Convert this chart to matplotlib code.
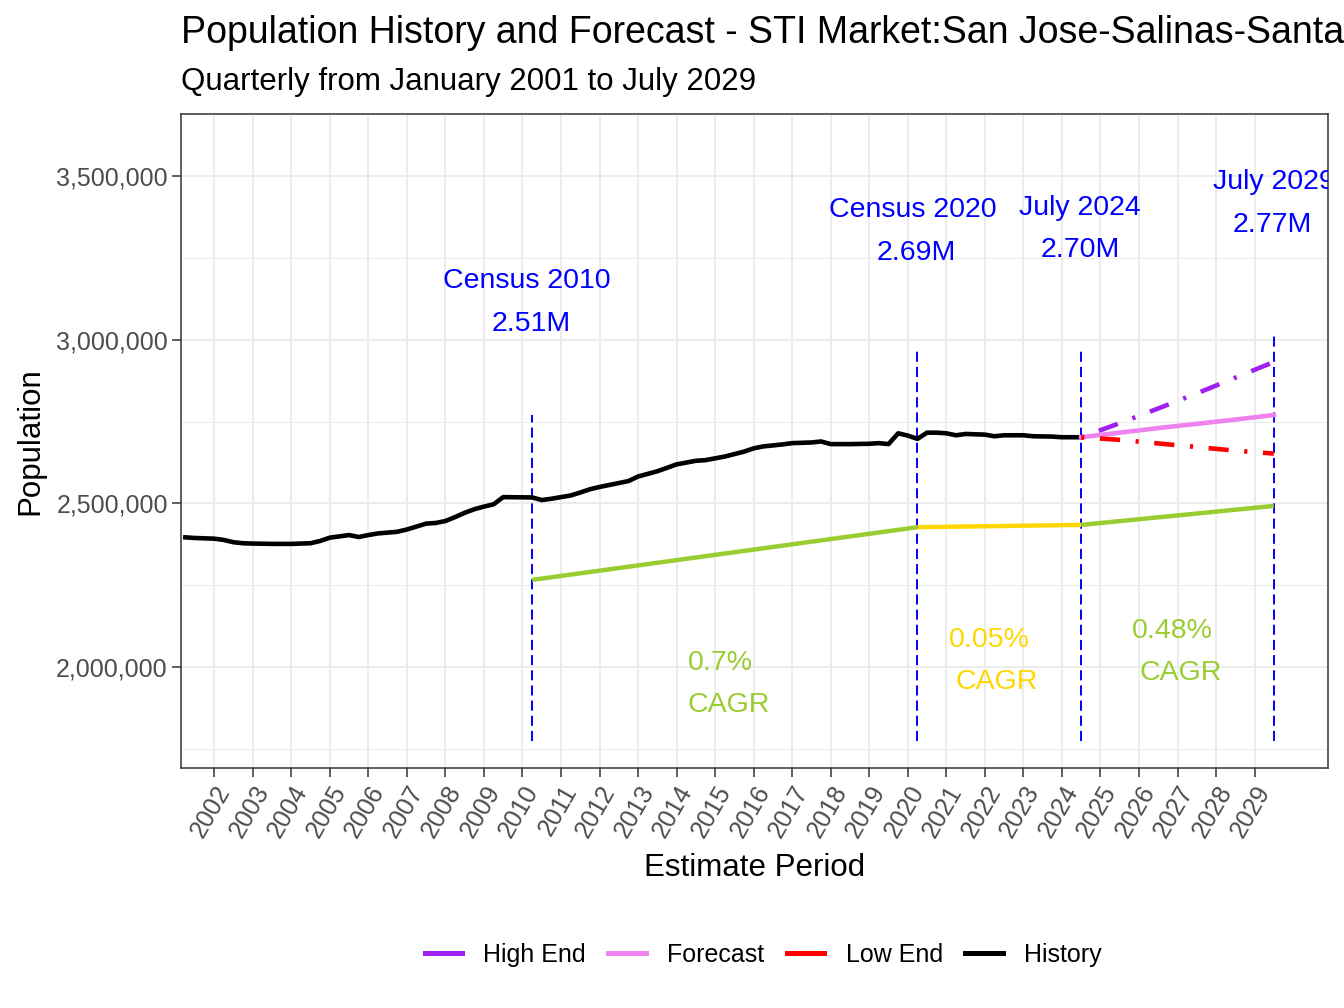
import numpy as np
import matplotlib
matplotlib.use('Agg')
import matplotlib.pyplot as plt
from matplotlib.ticker import FuncFormatter, MultipleLocator

plt.rcParams['font.family'] = ['Liberation Sans', 'DejaVu Sans']

# history (decimal year, population)
hist_year = [2001.25, 2001.5, 2001.75, 2002.0, 2002.25, 2002.5, 2002.75, 2003.0, 2003.5, 2004.0,
             2004.5, 2004.75, 2005.0, 2005.5, 2005.75, 2006.0, 2006.25, 2006.75, 2007.0, 2007.5,
             2007.75, 2008.0, 2008.25, 2008.5, 2008.75, 2009.0, 2009.25, 2009.5, 2010.25, 2010.5,
             2010.75, 2011.0, 2011.25, 2011.5, 2011.75, 2012.0, 2012.5, 2012.75, 2013.0, 2013.5,
             2014.0, 2014.5, 2014.75, 2015.25, 2015.75, 2016.0, 2016.25, 2016.75, 2017.0, 2017.5,
             2017.75, 2018.0, 2018.5, 2019.0, 2019.25, 2019.5, 2019.75, 2020.0, 2020.25, 2020.5,
             2020.75, 2021.0, 2021.25, 2021.5, 2022.0, 2022.25, 2022.5, 2023.0, 2023.25, 2023.75,
             2024.0, 2024.5]
hist_pop = [2396000, 2394000, 2393000, 2392000, 2388000, 2381000, 2378000, 2377000, 2376000, 2376000,
            2378000, 2385000, 2395000, 2403000, 2397000, 2403000, 2408000, 2413000, 2420000, 2438000,
            2440000, 2446000, 2458000, 2471000, 2482000, 2490000, 2497000, 2519000, 2518000, 2510000,
            2514000, 2519000, 2524000, 2533000, 2543000, 2550000, 2562000, 2568000, 2582000, 2598000,
            2619000, 2630000, 2632000, 2643000, 2658000, 2668000, 2674000, 2680000, 2684000, 2686000,
            2689000, 2681000, 2681000, 2682000, 2684000, 2681000, 2714000, 2707000, 2697000, 2716000,
            2716000, 2714000, 2708000, 2712000, 2710000, 2705000, 2708000, 2708000, 2705000, 2704000,
            2702000, 2702000]

fc_year = [2024.5, 2025.5, 2026.5, 2027.5, 2028.5, 2029.5]
fc_high = [2702000, 2745000, 2790000, 2836000, 2884000, 2932000]
fc_mid = [2702000, 2716000, 2730000, 2743000, 2756000, 2770000]
fc_low = [2702000, 2694000, 2683000, 2672000, 2661000, 2652000]

# CAGR segments
cagr_year = [2010.25, 2020.25, 2024.5, 2029.5]
cagr_pop = [2266000, 2427000, 2434000, 2492000]
cagr_txt = ['0.7%', '0.05%', '0.48%']

# reference events
ev_year = [2010.25, 2020.25, 2024.5, 2029.5]
ev_top = [2771000, 2969000, 2975000, 3025000]
ev_bottom = 1775000
ev_name = ['Census 2010', 'Census 2020', 'July 2024', 'July 2029']
ev_val = ['2.51M', '2.69M', '2.70M', '2.77M']

W, H = 1344, 1008
fig = plt.figure(figsize=(13.44, 10.08), dpi=100)
ax = fig.add_axes([181/W, 1-768/H, (1328-181)/W, (768-114)/H])

ax.set_xlim(2001.137, 2030.906)
ax.set_ylim(1691000, 3690000)

ax.xaxis.set_major_locator(plt.FixedLocator(list(range(2002, 2030))))
ax.yaxis.set_major_locator(MultipleLocator(500000))
ax.yaxis.set_minor_locator(MultipleLocator(250000))
ax.yaxis.set_major_formatter(FuncFormatter(lambda v, p: f'{int(v):,}'))
ax.grid(True, which='major', color='#EBEBEB', lw=1.3)
ax.grid(True, which='minor', axis='y', color='#EBEBEB', lw=0.7)
ax.set_axisbelow(True)
ax.tick_params(which='minor', length=0)
ax.tick_params(which='major', length=6.5, width=1.1, color='#333333',
               labelsize=18, labelcolor='#4D4D4D', pad=3)
for s in ax.spines.values():
    s.set_color('#333333')
    s.set_linewidth(1.1)
plt.setp(ax.get_xticklabels(), rotation=60, ha='right', va='top', rotation_mode='anchor')

# vertical event lines
for x, top in zip(ev_year, ev_top):
    ax.plot([x, x], [ev_bottom, top], color='blue', lw=1.4, ls=(0, (5.2, 2.6)))

# CAGR lines
cagr_col = ['#9ACD32', '#FFD700', '#9ACD32']
for k in range(3):
    ax.plot(cagr_year[k:k+2], cagr_pop[k:k+2], color=cagr_col[k], lw=3.2, solid_capstyle='butt')

ax.plot(hist_year, hist_pop, color='black', lw=3.3, label='History', zorder=3)
dd = (0, (0.7, 3.4, 4.4, 3.4))
ax.plot(fc_year, fc_high, color='#A020F0', lw=3.3, ls=dd, label='High End', zorder=3)
ax.plot(fc_year, fc_mid, color='#EE82EE', lw=3.3, label='Forecast', zorder=3)
ax.plot(fc_year, fc_low, color='red', lw=3.3, ls=dd, label='Low End', zorder=3)

# event labels
name_xy = [(2010.12, 3180000), (2020.12, 3397000), (2024.47, 3404000), (2029.5, 3483000)]
val_xy = [(2010.22, 3049000), (2020.22, 3266000), (2024.47, 3275000), (2029.45, 3352000)]
for k in range(4):
    ax.text(*name_xy[k], ev_name[k], color='blue', fontsize=20.5, ha='center', va='center', clip_on=True)
    ax.text(*val_xy[k], ev_val[k], color='blue', fontsize=20.5, ha='center', va='center', clip_on=True)

# CAGR labels
pct_xy = [(2015.13, 2012000), (2022.11, 2082000), (2026.86, 2110000)]
lab_xy = [(2015.34, 1884000), (2022.32, 1954000), (2027.07, 1982000)]
for k in range(3):
    ax.text(*pct_xy[k], cagr_txt[k], color=cagr_col[k], fontsize=20.5, ha='center', va='center')
    ax.text(*lab_xy[k], 'CAGR', color=cagr_col[k], fontsize=20.5, ha='center', va='center')

ax.set_xlabel('Estimate Period', fontsize=22.5, labelpad=8)
ax.set_ylabel('Population', fontsize=22.5, labelpad=8)

fig.text(181/W, 1-33/H, 'Population History and Forecast - STI Market:San Jose-Salinas-Santa Cruz, CA',
         fontsize=27, ha='left', va='center')
fig.text(181/W, 1-82/H, 'Quarterly from January 2001 to July 2029', fontsize=22.5, ha='left', va='center')

h, l = ax.get_legend_handles_labels()
order = [l.index(n) for n in ['High End', 'Forecast', 'Low End', 'History']]
leg = fig.legend([h[i] for i in order], [l[i] for i in order], loc='center', ncol=4,
                 bbox_to_anchor=(763/W, 1-955/H), frameon=False, fontsize=18,
                 handlelength=1.5, handletextpad=0.85, columnspacing=0.9)
for ln in leg.get_lines():
    ln.set_linestyle('-')
    ln.set_linewidth(3.6)

fig.savefig('out.png', dpi=100)
